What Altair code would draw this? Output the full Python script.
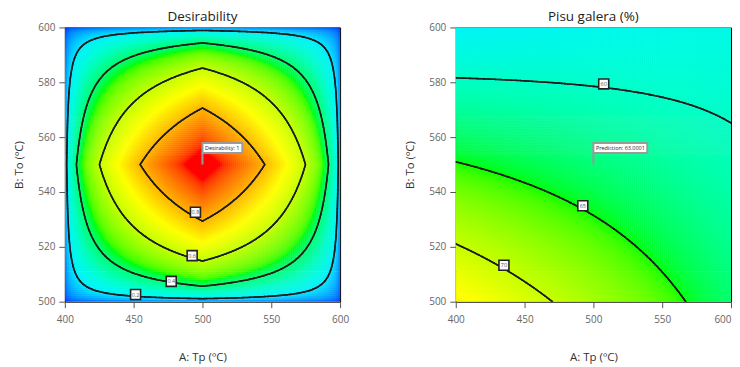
import numpy as np
import pandas as pd
import altair as alt

alt.data_transformers.disable_max_rows()

# ---------------- values ----------------
panel_titles = ["Desirability", "Pisu galera (%)"]
tp_ticks = [400, 450, 500, 550, 600]
to_ticks = [500, 520, 540, 560, 580, 600]

d_center = [500, 550]
d_half = [100, 50]
d_exponents = [0.37, 0.42]
d_levels = [0.2, 0.4, 0.6, 0.8]
d_label_tp = [451.4, 477.3, 492.5, 494.9]
d_label_to = [502.6, 507.4, 516.8, 532.6]
d_label_text = ["0.2", "0.4", "0.6", "0.8"]

# Pisu galera (%): points
p_levels = [60, 65, 70]
p60_tp = [400, 446, 508, 555, 579, 600]
p60_to = [581.6, 580.8, 579.3, 573.3, 569.7, 565.1]
p65_tp = [400, 434, 492, 531, 555, 564]
p65_to = [551.3, 545.5, 534.9, 522.4, 509.0, 500.0]
p70_tp = [400, 435, 468]
p70_to = [520.8, 513.2, 500.0]
p_corner_tp = [400, 600, 600, 400]
p_corner_to = [600, 600, 500, 500]
p_corner_val = [57.0, 58.5, 63.5, 73.5]
p_prediction = 63.0001
p_label_tp = [507.5, 492.3, 435.0]
p_label_to = [579.4, 535.0, 513.3]
p_label_text = ["60", "65", "70"]

flag_tp = [500]
flag_to = [550]
d_flag_text = ["Desirability: 1"]
p_flag_text = ["Prediction: 63.0001"]

rainbow = ["#0000ff", "#00f4f4", "#00ff00", "#ffff00", "#ff0000"]
d_color_domain = [0, 0.22, 0.45, 0.7, 0.95]
p_color_domain = [49, 57, 65, 73, 81]

# ---------------- surfaces ----------------
def coded(tp, to):
    return (np.asarray(tp, float) - 500) / 100, (np.asarray(to, float) - 550) / 50

def desirability(tp, to):
    a = np.abs((tp - d_center[0]) / d_half[0])
    b = np.abs((to - d_center[1]) / d_half[1])
    return np.clip(1 - a, 0, 1) ** d_exponents[0] * np.clip(1 - b, 0, 1) ** d_exponents[1]

def terms(A, B):
    return np.stack([np.ones_like(A), A, B, A * B, A ** 2, B ** 2, A ** 2 * B, A * B ** 2], axis=-1)

fit_tp = p60_tp + p65_tp + p70_tp + p_corner_tp + [500]
fit_to = p60_to + p65_to + p70_to + p_corner_to + [550]
fit_v = ([60] * len(p60_tp) + [65] * len(p65_tp) + [70] * len(p70_tp)
         + p_corner_val + [p_prediction])
fit_w = ([1.0] * (len(p60_tp) + len(p65_tp) + len(p70_tp)) + [0.4] * 4 + [10.0])
A_, B_ = coded(fit_tp, fit_to)
M = terms(A_, B_) * np.array(fit_w)[:, None]
coef, *_ = np.linalg.lstsq(M, np.array(fit_v) * np.array(fit_w), rcond=None)

def pisu(tp, to):
    A, B = coded(tp, to)
    return terms(A, B) @ coef

# heat-map cells
nx = ny = 138
ex = np.linspace(400, 600, nx + 1)
ey = np.linspace(500, 600, ny + 1)
cx = (ex[:-1] + ex[1:]) / 2
cy = (ey[:-1] + ey[1:]) / 2
CX, CY = np.meshgrid(cx, cy)
LX, LY = np.meshgrid(ex[:-1], ey[:-1])
step_x = 200 / nx
step_y = 100 / ny

d_heat = pd.DataFrame({"x": LX.ravel().round(3), "y": LY.ravel().round(3),
                       "v": desirability(CX, CY).ravel().round(4)})
p_heat = pd.DataFrame({"x": LX.ravel().round(3), "y": LY.ravel().round(3),
                       "v": pisu(CX, CY).ravel().round(3)})

# contour segments (marching squares)
gx = np.linspace(400, 600, 201)
gy = np.linspace(500, 600, 201)
GX, GY = np.meshgrid(gx, gy)

def contour_segs(V, level):
    W = V - level
    W[W == 0] = 1e-12
    s = W > 0
    c00, c10, c11, c01 = s[:-1, :-1], s[:-1, 1:], s[1:, 1:], s[1:, :-1]
    mask = (c00 != c10) | (c00 != c01) | (c00 != c11)
    rows = []
    for j, i in zip(*np.nonzero(mask)):
        x0, x1, y0, y1 = gx[i], gx[i + 1], gy[j], gy[j + 1]
        v = [W[j, i], W[j, i + 1], W[j + 1, i + 1], W[j + 1, i]]
        p = [(x0, y0), (x1, y0), (x1, y1), (x0, y1)]
        pts = []
        for k in range(4):
            a, b = k, (k + 1) % 4
            if (v[a] > 0) != (v[b] > 0):
                t = v[a] / (v[a] - v[b])
                pts.append((p[a][0] + t * (p[b][0] - p[a][0]), p[a][1] + t * (p[b][1] - p[a][1])))
        for m in range(0, len(pts) - 1, 2):
            rows.append({"x": round(pts[m][0], 3), "y": round(pts[m][1], 3),
                         "x2": round(pts[m + 1][0], 3), "y2": round(pts[m + 1][1], 3)})
    return rows

DV = desirability(GX, GY)
PV = pisu(GX, GY)
d_segs = pd.DataFrame([r for L in d_levels for r in contour_segs(DV, L)])
p_segs = pd.DataFrame([r for L in p_levels for r in contour_segs(PV, L)])

d_labels = pd.DataFrame({"x": d_label_tp, "y": d_label_to, "t": d_label_text})
p_labels = pd.DataFrame({"x": p_label_tp, "y": p_label_to, "t": p_label_text})
d_flag = pd.DataFrame({"x": flag_tp, "y": flag_to, "t": d_flag_text})
p_flag = pd.DataFrame({"x": flag_tp, "y": flag_to, "t": p_flag_text})

# ---------------- chart ----------------
FONT = "Open Sans"
W_PLOT, H_PLOT = 276, 275
xscale = alt.Scale(domain=[400, 600], nice=False, zero=False)
yscale = alt.Scale(domain=[500, 600], nice=False, zero=False)
Y = alt.Y("y:Q", scale=yscale,
          axis=alt.Axis(values=to_ticks, title="B: To (ºC)", labelPadding=4, titlePadding=13))


def make_x(last_right):
    ax = dict(values=tp_ticks, title="A: Tp (ºC)", labelPadding=7, titlePadding=27, labelFlush=False)
    if last_right:
        ax["labelAlign"] = alt.ExprRef(expr="datum.value == 600 ? 'right' : 'center'")
    return alt.X("x:Q", scale=xscale, axis=alt.Axis(**ax))


def panel(heat_df, dom, seg_df, lab_df, flag_df, box_w, title, last_right):
    X = make_x(last_right)
    heat = alt.Chart(heat_df).mark_rect(clip=True).transform_calculate(
        x2=f"datum.x + {step_x * 1.25}", y2=f"datum.y + {step_y * 1.25}"
    ).encode(
        x=X, x2="x2:Q", y=Y, y2="y2:Q",
        color=alt.Color("v:Q", scale=alt.Scale(domain=dom, range=rainbow, clamp=True), legend=None),
    )
    lines = alt.Chart(seg_df).mark_rule(color="#1c1c1c", strokeWidth=1.6, strokeCap="round", clip=True).encode(
        x=X, y=Y, x2="x2:Q", y2="y2:Q")
    boxes = alt.Chart(lab_df).mark_point(shape="square", size=100, filled=True, fill="white",
                                         stroke="#222222", strokeWidth=1.6, opacity=1).encode(x=X, y=Y)
    btxt = alt.Chart(lab_df).mark_text(fontSize=5.5, color="#555555", font=FONT).encode(x=X, y=Y, text="t:N")
    stem = alt.Chart(flag_df).mark_rule(color="#9a9a9a", strokeWidth=2, y2Offset=-12).encode(
        x=X, y=Y, y2="y:Q")
    fbox = alt.Chart(flag_df).mark_rect(fill="white", stroke="#9a9a9a", strokeWidth=2,
                                        x2Offset=box_w, yOffset=-11.5, y2Offset=-21.5).encode(
        x=X, x2="x:Q", y=Y, y2="y:Q")
    ftxt = alt.Chart(flag_df).mark_text(align="left", baseline="middle", dx=2.5, dy=-16.5,
                                        fontSize=5.5, color="#222222", font=FONT).encode(x=X, y=Y, text="t:N")
    ttl = alt.Chart(pd.DataFrame({"t": [title]})).mark_text(
        fontSize=13.5, color="#222222", font=FONT, baseline="middle", align="center"
    ).encode(x=alt.value(W_PLOT / 2), y=alt.value(-10), text="t:N")
    return alt.layer(heat, lines, boxes, btxt, stem, fbox, ftxt, ttl).properties(
        width=W_PLOT, height=H_PLOT)


left = panel(d_heat, d_color_domain, d_segs, d_labels, d_flag, 40, panel_titles[0], False)
right = panel(p_heat, p_color_domain, p_segs, p_labels, p_flag, 54, panel_titles[1], True)

chart = alt.hconcat(left, right, spacing=54).resolve_scale(color="independent").properties(
    padding={"left": 5, "top": 1, "right": 0, "bottom": 2}
).configure(font=FONT).configure_view(stroke="black", strokeWidth=1).configure_axis(
    grid=False, domain=False, tickColor="#555555", tickSize=6, tickWidth=1,
    labelFontSize=10, labelColor="#666666", labelFont=FONT,
    titleFontSize=11.5, titleColor="#333333", titleFontWeight="normal", titleFont=FONT,
)

chart.save("out.html", embed_options={"renderer": "svg", "actions": False})
